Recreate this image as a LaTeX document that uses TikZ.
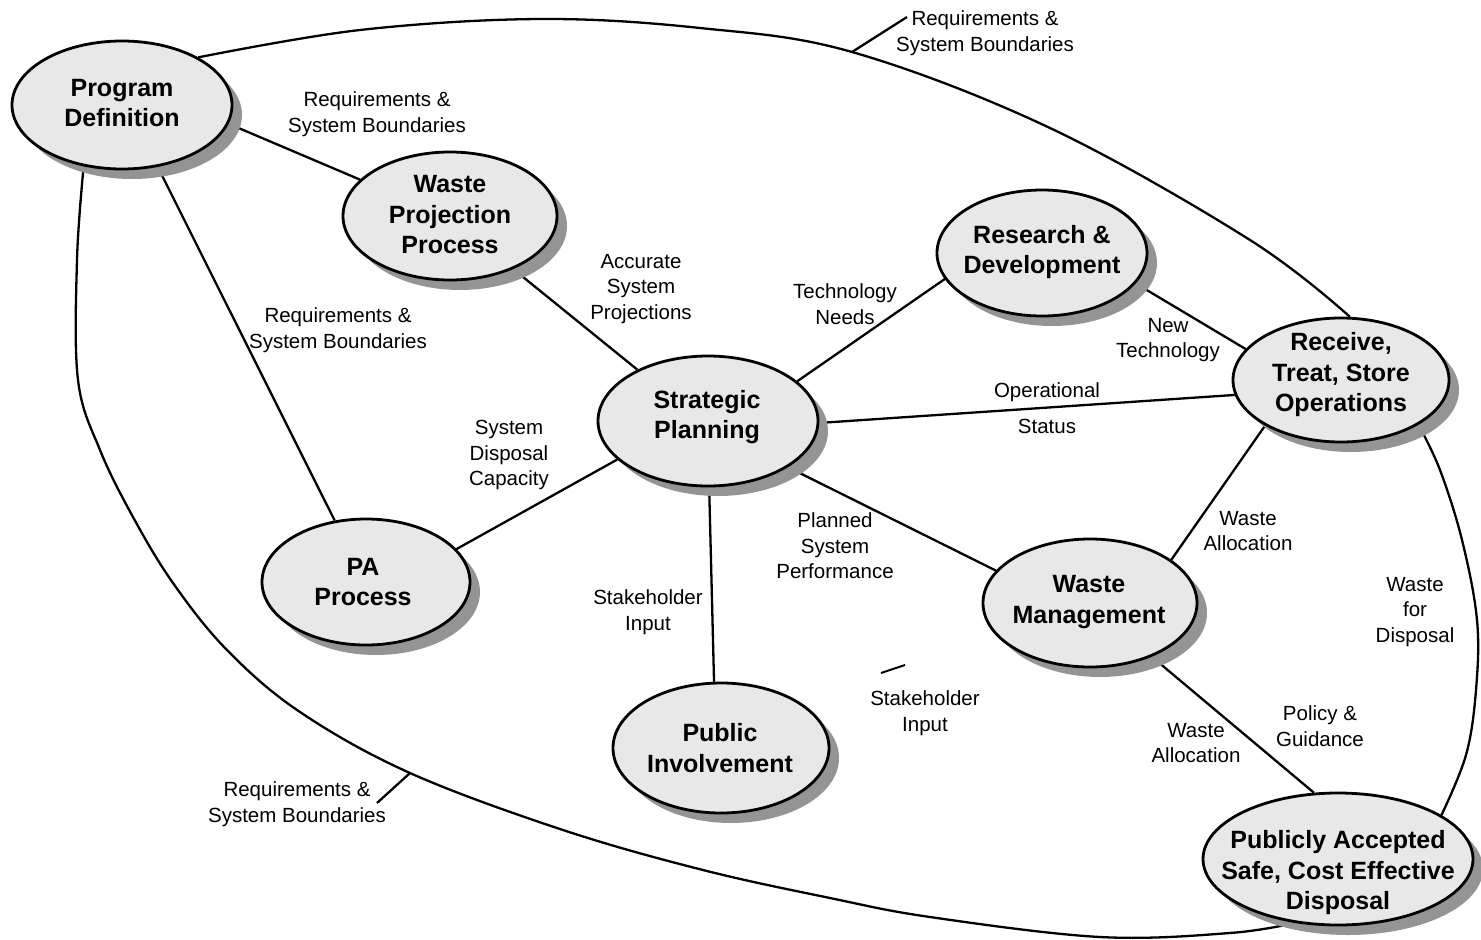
\documentclass[tikz,border=0pt]{standalone}
\usepackage{fontspec}
\setmainfont{Liberation Sans}
\usetikzlibrary{shapes.geometric,shadows,backgrounds}
\begin{document}
\begin{tikzpicture}[x=1pt,y=-1pt,
  bub/.style={ellipse,draw=black,line width=2.8pt,fill=black!9,inner sep=0pt,
    drop shadow={shadow xshift=10pt,shadow yshift=-10pt,fill=black!42,opacity=1}},
  btxt/.style={align=center,font=\fontsize{25}{30.5}\selectfont\bfseries,inner sep=0pt},
  lbl/.style={align=center,font=\fontsize{20.5}{25.5}\selectfont,inner sep=0pt},
  conn/.style={line width=2.3pt,line join=round},
  loop/.style={line width=2.3pt,line join=round,smooth,tension=0.6},
]
\useasboundingbox (0,0) rectangle (1481,940);

% bubbles
\node[bub,minimum width=220pt,minimum height=128pt] (pd) at (122,105) {};
\node[bub,minimum width=214pt,minimum height=128pt] (wpp) at (450,216) {};
\node[bub,minimum width=210pt,minimum height=126pt] (rd) at (1042,253) {};
\node[bub,minimum width=216pt,minimum height=124pt] (rts) at (1341,380) {};
\node[bub,minimum width=220pt,minimum height=130pt] (sp) at (708,421) {};
\node[bub,minimum width=208pt,minimum height=126pt] (pa) at (366,582) {};
\node[bub,minimum width=214pt,minimum height=128pt] (wm) at (1090,603) {};
\node[bub,minimum width=216pt,minimum height=130pt] (pi) at (721,748) {};
\node[bub,minimum width=270pt,minimum height=132pt] (disp) at (1338,859) {};

% bubble texts
\node[btxt] (pdT) at (122,103) {Program\\Definition};
\node[btxt] (wppT) at (450,215) {Waste\\Projection\\Process};
\node[btxt] (rdT) at (1042,252) {Research \&\\Development};
\node[btxt] (rtsT) at (1341,375) {Receive,\\Treat, Store\\Operations};
\node[btxt] (spT) at (707,417) {Strategic\\Planning};
\node[btxt] (paT) at (363,582) {PA\\Process};
\node[btxt] (wmT) at (1089,602) {Waste\\Management};
\node[btxt] (piT) at (720,748) {Public\\Involvement};
\node[btxt] (dispT) at (1338,873) {Publicly Accepted\\Safe, Cost Effective\\Disposal};

% helper coordinates
\coordinate (lt) at (852,52);
\coordinate (ltE) at (907,17);
\coordinate (lb) at (410,773);
\coordinate (lbE) at (377,803);
\coordinate (m1) at (881,673);
\coordinate (m2) at (905,665);

\begin{pgfonlayer}{background}
\draw[conn] (pd.-10) -- (wpp.158);
\draw[conn] (pd.-60) -- (pa.117);
\draw[conn] (wpp.-40) -- (sp.144);
\draw[conn] (sp.24) -- (rd.-165);
\draw[conn] (rd.-18) -- (rts.162);
\draw[conn] (sp.-1) -- (rts.-172);
\draw[conn] (sp.-157) -- (pa.20);
\draw[conn] (sp.-89) -- (pi.96);
\draw[conn] (sp.-30) -- (wm.161);
\draw[conn] (rts.-149) -- (wm.28);
\draw[conn] (wm.-41) -- (disp.110);
% outer loop
\draw[loop] plot coordinates {(pd.32) (360,30) (540,19) (700,28) (lt) (1050,128) (1250,240) (rts.82)};
\draw[loop] plot coordinates {(rts.-30) (1440,470) (1462,540) (1477,620) (1476,690) (1466,755) (disp.23)};
\draw[loop] plot coordinates {(disp.-124) (1230,933) (1100,937) (930,917) (830,898) (703,870) (563,830) (lb) (300,712) (227,650) (173,583) (133,517) (100,450) (78,380) (77,260) (pd.-122)};
\draw[conn] (lt) -- (ltE);
\draw[conn] (lb) -- (lbE);
\draw[line width=2pt] (m1) -- (m2);
\end{pgfonlayer}

% labels
\node[lbl] (l1) at (985,33) {Requirements \&\\System Boundaries};
\node[lbl] (l2) at (377,114) {Requirements \&\\System Boundaries};
\node[lbl] (l3) at (338,330) {Requirements \&\\System Boundaries};
\node[lbl] (l4) at (641,289) {Accurate\\System\\Projections};
\node[lbl] (l5) at (845,304) {Technology\\Needs};
\node[lbl] (l6) at (1168,340) {New\\Technology};
\node[lbl] (l7) at (1047,392) {Operational};
\node[lbl] (l8) at (1047,426) {Status};
\node[lbl] (l9) at (509,455) {System\\Disposal\\Capacity};
\node[lbl] (l10) at (648,612) {Stakeholder\\Input};
\node[lbl] (l11) at (835,546) {Planned\\System\\Performance};
\node[lbl] (l12) at (1248,531) {Waste\\Allocation};
\node[lbl] (l13) at (1415,612) {Waste\\for\\Disposal};
\node[lbl] (l14) at (925,713) {Stakeholder\\Input};
\node[lbl] (l15) at (1196,743) {Waste\\Allocation};
\node[lbl] (l16) at (1320,726) {Policy \&\\Guidance};
\node[lbl] (l17) at (297,804) {Requirements \&\\System Boundaries};
\end{tikzpicture}
\end{document}
